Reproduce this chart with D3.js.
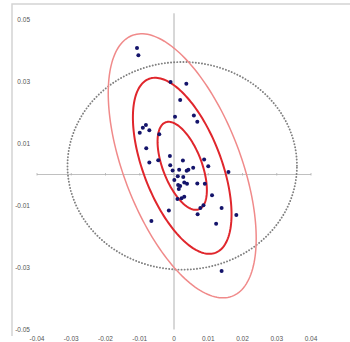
<!DOCTYPE html>
<html>
<head>
<meta charset="utf-8">
<script src="https://cdn.jsdelivr.net/npm/d3@7"></script>
<style>
  body { margin: 0; background: #fff; }
  text { font-family: "Liberation Sans", Arial, sans-serif; }
</style>
</head>
<body>
<script>
// points
const xs = [-0.0108, -0.0104, -0.0010, 0.0036, 0.0018, 0.0003, 0.0058, 0.0068, -0.0082, -0.0091,
            -0.0072, -0.0100, -0.0043, -0.0081, -0.0072, -0.0046, -0.0012, -0.0011, 0.0026, -0.0004,
            0.0015, 0.0037, 0.0042, 0.0056, 0.0088, 0.0100, 0.0159, 0.0011, 0.0027, 0.0001,
            0.0030, 0.0038, 0.0012, 0.0018, 0.0068, 0.0090, 0.0014, 0.0030, 0.0022, 0.0010,
            0.0111, 0.0086, 0.0077, 0.0139, -0.0015, 0.0069, 0.0182, -0.0066, 0.0123, 0.0139];
const ys = [0.0408, 0.0385, 0.0298, 0.0293, 0.0240, 0.0186, 0.0190, 0.0170, 0.0160, 0.0151,
            0.0143, 0.0135, 0.0130, 0.0085, 0.0039, 0.0046, 0.0060, 0.0030, 0.0045, 0.0013,
            0.0015, 0.0012, 0.0015, 0.0022, 0.0048, 0.0027, 0.0008, -0.0006, -0.0008, -0.0018,
            -0.0026, -0.0030, -0.0034, -0.0037, -0.0029, -0.0030, -0.0047, -0.0072, -0.0077, -0.0079,
            -0.0067, -0.0099, -0.0108, -0.0108, -0.0116, -0.0128, -0.0131, -0.0150, -0.0159, -0.0311];

const xTicks = [-0.04, -0.03, -0.02, -0.01, 0, 0.01, 0.02, 0.03, 0.04];
const xLabels = ['-0.04', '-0.03', '-0.02', '-0.01', '0', '0.01', '0.02', '0.03', '0.04'];
const yTicks = [0.05, 0.03, 0.01, -0.01, -0.03, -0.05];
const yLabels = ['0.05', '0.03', '0.01', '-0.01', '-0.03', '-0.05'];

// confidence ellipses (1, 2, 3 sigma)
const sigmas = [1, 2, 3];
const center = [0.0024, 0.0028];
const spread = [0.0072, 0.0142];
const rho = -0.55;
const circleRadius = 0.0335;   // dotted circle

const width = 350, height = 342;

const x = d3.scaleLinear().domain([-0.04, 0.04]).range([37, 311]);
const y = d3.scaleLinear().domain([-0.05, 0.05]).range([329.5, 19.5]);

const svg = d3.select('body').append('svg')
    .attr('width', width)
    .attr('height', height);

// frame
svg.append('path')
    .attr('d', `M12,336 L12,4 L350,4`)
    .attr('fill', 'none')
    .attr('stroke', '#d4d4d4')
    .attr('stroke-width', 1.5);

// axes through zero
svg.append('line')
    .attr('x1', x(-0.04)).attr('x2', x(0.04))
    .attr('y1', y(0)).attr('y2', y(0))
    .attr('stroke', '#b0b0b0').attr('stroke-width', 0.8);

svg.selectAll('line.xt').data(xTicks).enter()
    .append('line')
    .attr('x1', d => x(d)).attr('x2', d => x(d))
    .attr('y1', y(0) - 1.5).attr('y2', y(0) + 1)
    .attr('stroke', '#b0b0b0').attr('stroke-width', 0.8);

svg.append('line')
    .attr('x1', x(0)).attr('x2', x(0))
    .attr('y1', y(0.052)).attr('y2', y(-0.05))
    .attr('stroke', '#b0b0b0').attr('stroke-width', 1);

// tick labels
svg.selectAll('text.yl').data(yTicks).enter()
    .append('text')
    .attr('x', 30)
    .attr('y', d => y(d) + 2)
    .attr('text-anchor', 'end')
    .attr('font-size', 6.5)
    .attr('fill', '#555')
    .text((d, i) => yLabels[i]);

svg.selectAll('text.xl').data(xTicks).enter()
    .append('text')
    .attr('x', d => x(d))
    .attr('y', 341)
    .attr('text-anchor', 'middle')
    .attr('font-size', 6.5)
    .attr('fill', '#555')
    .text((d, i) => xLabels[i]);

const angles = d3.range(0, 2 * Math.PI, Math.PI / 90);
const line = d3.line().curve(d3.curveLinearClosed);

const ellipse = k => line(angles.map(t => {
    const u = Math.cos(t), v = Math.sin(t);
    return [x(center[0] + k * spread[0] * u),
            y(center[1] + k * spread[1] * (rho * u + Math.sqrt(1 - rho * rho) * v))];
}));

svg.append('path')
    .attr('d', line(angles.map(t => [x(center[0] + circleRadius * Math.cos(t)),
                                     y(center[1] + circleRadius * Math.sin(t))])))
    .attr('fill', 'none')
    .attr('stroke', '#808080')
    .attr('stroke-width', 1.9)
    .attr('stroke-linecap', 'round')
    .attr('stroke-dasharray', '0.1,3');

svg.selectAll('path.ell').data(sigmas).enter()
    .append('path')
    .attr('d', d => ellipse(d))
    .attr('fill', 'none')
    .attr('stroke', d => d === 3 ? '#f08a8a' : '#e0262c')
    .attr('stroke-width', d => d === 3 ? 1.5 : 2);

svg.selectAll('circle.pt').data(xs).enter()
    .append('circle')
    .attr('cx', d => x(d))
    .attr('cy', (d, i) => y(ys[i]))
    .attr('r', 2)
    .attr('fill', '#14146b');
</script>
</body>
</html>
